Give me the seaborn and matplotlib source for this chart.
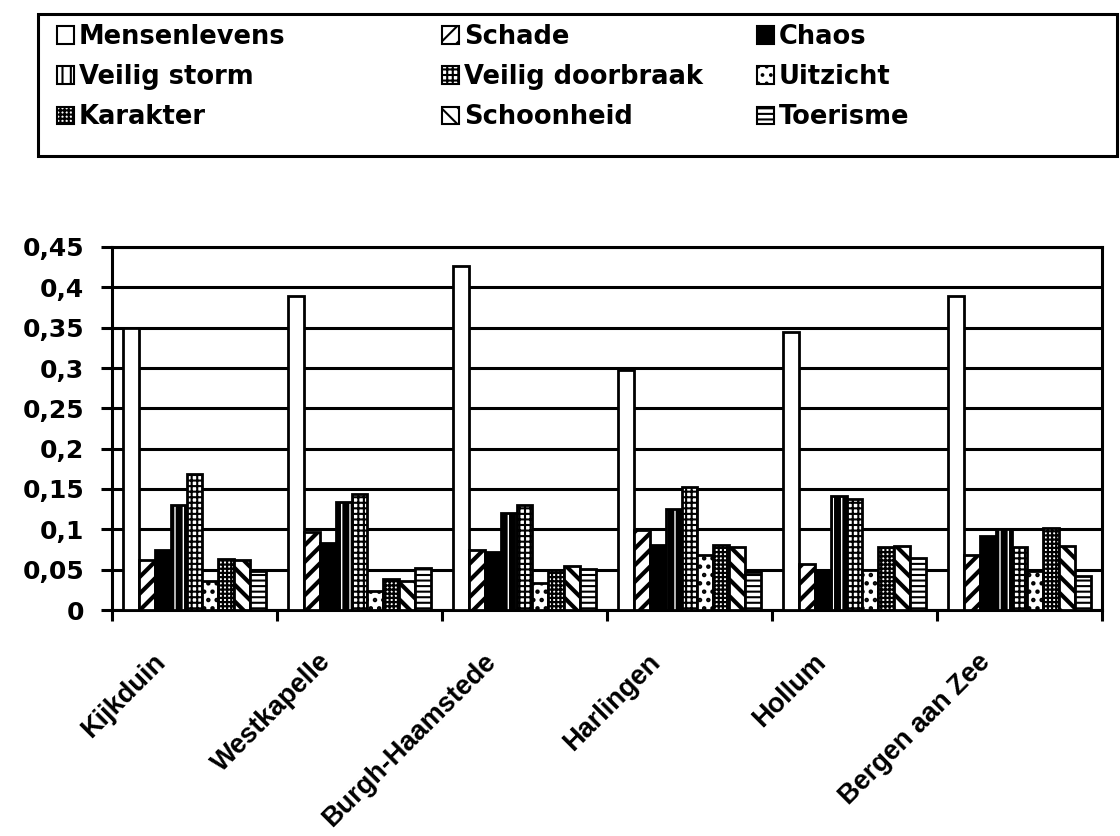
import numpy as np
import pandas as pd
import matplotlib
matplotlib.use('Agg')
import matplotlib.pyplot as plt
import matplotlib.patches as mpatches
import matplotlib.transforms as mtransforms
import seaborn as sns

# data
sites = ['Kijkduin', 'Westkapelle', 'Burgh-Haamstede', 'Harlingen', 'Hollum', 'Bergen aan Zee']
criteria = ['Mensenlevens', 'Schade', 'Chaos', 'Veilig storm', 'Veilig doorbraak',
            'Uitzicht', 'Karakter', 'Schoonheid', 'Toerisme']

mensenlevens = [0.350, 0.389, 0.427, 0.298, 0.345, 0.389]
schade = [0.062, 0.097, 0.074, 0.099, 0.057, 0.068]
chaos = [0.075, 0.083, 0.072, 0.080, 0.050, 0.092]
veilig_storm = [0.130, 0.134, 0.120, 0.125, 0.141, 0.101]
veilig_doorbraak = [0.168, 0.144, 0.130, 0.152, 0.138, 0.078]
uitzicht = [0.036, 0.024, 0.034, 0.068, 0.049, 0.048]
karakter = [0.063, 0.038, 0.050, 0.080, 0.078, 0.102]
schoonheid = [0.062, 0.036, 0.054, 0.078, 0.079, 0.079]
toerisme = [0.048, 0.052, 0.051, 0.047, 0.065, 0.042]

y_ticks = [0, 0.05, 0.1, 0.15, 0.2, 0.25, 0.3, 0.35, 0.4, 0.45]
y_labels = ['0', '0,05', '0,1', '0,15', '0,2', '0,25', '0,3', '0,35', '0,4', '0,45']

series = [mensenlevens, schade, chaos, veilig_storm, veilig_doorbraak,
          uitzicht, karakter, schoonheid, toerisme]

rows = []
for crit, vals in zip(criteria, series):
    for site, v in zip(sites, vals):
        rows.append({'site': site, 'criterion': crit, 'value': v})
df = pd.DataFrame(rows)

# fill / hatch per criterion (black & white print look)
faces = {c: 'white' for c in criteria}
faces['Chaos'] = 'black'
hatches = {'Mensenlevens': '', 'Schade': '//', 'Chaos': '', 'Veilig storm': '||',
           'Veilig doorbraak': '+++', 'Uitzicht': '..', 'Karakter': '++++',
           'Schoonheid': '\\\\', 'Toerisme': '---'}
hatch_lw = {'Mensenlevens': 1.0, 'Schade': 3.0, 'Chaos': 1.0, 'Veilig storm': 5.0,
            'Veilig doorbraak': 1.5, 'Uitzicht': 2.0, 'Karakter': 1.6,
            'Schoonheid': 3.0, 'Toerisme': 1.5}

sns.set_theme(style='white')
plt.rcParams['font.family'] = ['DejaVu Sans']
plt.rcParams['text.color'] = 'black'
plt.rcParams['xtick.color'] = 'black'
plt.rcParams['ytick.color'] = 'black'
plt.rcParams['hatch.linewidth'] = 1.5
plt.rcParams['hatch.color'] = 'black'

fig = plt.figure(figsize=(11.2, 8.36), dpi=100)
ax = fig.add_axes([112 / 1120, 1 - 610 / 836, 990 / 1120, 363 / 836])

sns.barplot(data=df, x='site', y='value', hue='criterion', order=sites, hue_order=criteria,
            palette=faces, saturation=1, width=0.87, gap=0, edgecolor='black',
            linewidth=2, legend=False, errorbar=None, ax=ax, zorder=3)

for crit, cont in zip(criteria, ax.containers):
    for p in cont.patches:
        p.set_hatch(hatches[crit])
        if hasattr(p, 'set_hatch_linewidth'):
            p.set_hatch_linewidth(hatch_lw[crit])

ax.set_ylim(0, 0.45)
ax.set_xlim(-0.5, 5.5)
ax.set_yticks(y_ticks)
ax.set_yticklabels(y_labels, fontsize=18, fontweight='bold')
ax.yaxis.grid(True, color='black', linewidth=2.2, zorder=0)
ax.set_axisbelow(True)
ax.set_xlabel('')
ax.set_ylabel('')

ax.tick_params(axis='y', direction='out', length=8, width=2.2, color='black', pad=12, left=True)
ax.set_xticks(range(len(sites)))
ax.set_xticks(np.arange(-0.5, len(sites), 1.0), minor=True)
ax.tick_params(axis='x', which='major', length=0, pad=28)
ax.tick_params(axis='x', which='minor', direction='out', length=8, width=2.2, color='black', bottom=True)
ax.set_xticklabels(sites, rotation=45, ha='right', rotation_mode='anchor',
                   fontsize=19.5, fontweight='bold', family='Liberation Sans')
shift = mtransforms.ScaledTranslation(-0.42, 0, fig.dpi_scale_trans)
for lab in ax.get_xticklabels():
    lab.set_transform(lab.get_transform() + shift)

for sp in ax.spines.values():
    sp.set_visible(True)
    sp.set_color('black')
    sp.set_linewidth(2.2)

# legend: three columns laid out row-wise like the original
col_x = [57, 442, 757]
for k in range(3):
    names = criteria[k::3]
    handles = []
    for crit in names:
        h = mpatches.Patch(facecolor=faces[crit], edgecolor='black', hatch=hatches[crit], linewidth=1.5)
        handles.append(h)
    fig.legend(handles, names, loc='upper left',
               bbox_to_anchor=(col_x[k] / 1120, 1 - 24 / 836), bbox_transform=fig.transFigure,
               frameon=False, borderpad=0, borderaxespad=0, handlelength=0.66, handleheight=0.66,
               handletextpad=0.2, labelspacing=0.55,
               prop={'family': 'DejaVu Sans', 'weight': 'bold', 'size': 18.5})

frame = mpatches.Rectangle((38 / 1120, 1 - 156 / 836), (1117 - 38) / 1120, 142 / 836,
                           transform=fig.transFigure, fill=False, edgecolor='black', linewidth=2.2)
fig.add_artist(frame)

fig.savefig('out.png', dpi=100, facecolor='white')
